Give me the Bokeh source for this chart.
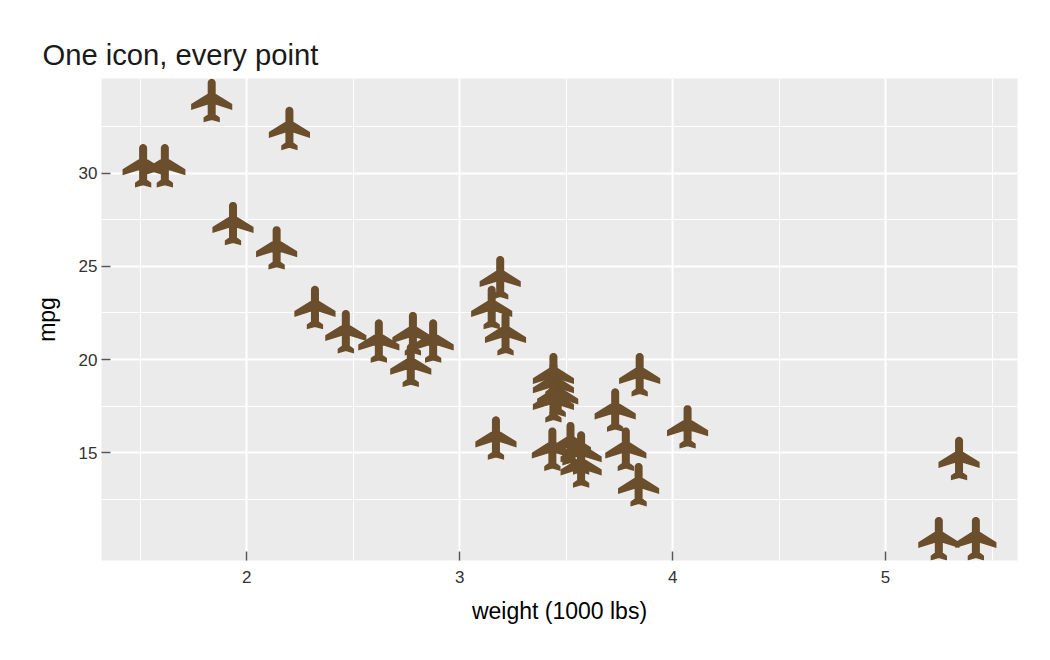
import numpy as np
from bokeh.plotting import figure
from bokeh.models import FixedTicker, Range1d
from bokeh.embed import file_html
from bokeh.resources import INLINE

# mtcars-style data
weight = [2.62, 2.875, 2.32, 3.215, 3.44, 3.46, 3.57, 3.19, 3.15, 3.44, 3.44, 4.07,
          3.73, 3.78, 5.25, 5.424, 5.345, 2.2, 1.615, 1.835, 2.465, 3.52, 3.435,
          3.84, 3.845, 1.935, 2.14, 1.513, 3.17, 2.77, 3.57, 2.78]
mpg = [21.0, 21.0, 22.8, 21.4, 18.7, 18.1, 14.3, 24.4, 22.8, 19.2, 17.8, 16.4,
       17.3, 15.2, 10.4, 10.4, 14.7, 32.4, 30.4, 33.9, 21.5, 15.5, 15.2,
       13.3, 19.2, 27.3, 26.0, 30.4, 15.8, 19.7, 15.0, 21.4]
x_ticks = [2, 3, 4, 5]
x_minor = [1.5, 2.5, 3.5, 4.5, 5.5]
y_ticks = [15, 20, 25, 30]
y_minor = [12.5, 17.5, 22.5, 27.5, 32.5]

PANEL_W, PANEL_H = 916, 482
X0, X1 = 1.3175, 5.6195
Y0, Y1 = 9.225, 35.075
ICON_SCALE = 2.07
BROWN = "#6B4E2B"

# flight icon outline in a 24-unit icon box
arc = np.linspace(0, np.pi, 12)
icon_x = np.array([21, 21, 13] + list(11.5 + 1.5 * np.cos(arc)) +
                  [10, 2, 2, 10, 10, 8, 8, 11.5, 15, 15, 13, 13]) - 11.5
icon_y = np.array([16, 14, 9] + list(3.5 - 1.5 * np.sin(arc)) +
                  [9, 14, 16, 13.5, 19, 20.5, 22, 21, 22, 20.5, 19, 13.5]) - 12
ux = PANEL_W / (X1 - X0)
uy = PANEL_H / (Y1 - Y0)
xs = [w + icon_x * ICON_SCALE / ux for w in weight]
ys = [m - icon_y * ICON_SCALE / uy for m in mpg]

p = figure(width=1042, height=652, output_backend="svg", toolbar_location=None,
           x_range=Range1d(X0, X1), y_range=Range1d(Y0, Y1),
           min_border_left=101, min_border_right=25, min_border_top=78, min_border_bottom=92,
           background_fill_color="#EBEBEB", border_fill_color="white",
           title="One icon, every point")
p.outline_line_color = None
p.patches(xs, ys, fill_color=BROWN, line_color=BROWN, line_width=1.8, line_join="miter")

p.title.text_font = "Liberation Sans"
p.title.text_font_size = "29.2px"
p.title.text_font_style = "normal"
p.title.text_color = "#1a1a1a"
p.title.offset = -59
p.title.standoff = 16

for ax, label, major, minor in ((p.xaxis[0], "weight (1000 lbs)", x_ticks, x_minor),
                                (p.yaxis[0], "mpg", y_ticks, y_minor)):
    ax.ticker = FixedTicker(ticks=major, minor_ticks=minor)
    ax.axis_label = label
    ax.axis_label_text_font = "Liberation Sans"
    ax.axis_label_text_font_size = "23px"
    ax.axis_label_text_font_style = "normal"
    ax.axis_label_text_color = "#000000"
    ax.major_label_text_font = "Liberation Sans"
    ax.major_label_text_font_size = "17px"
    ax.major_label_text_color = "#333333"
    ax.axis_line_color = None
    ax.major_tick_line_color = "#555555"
    ax.major_tick_line_width = 1.5
    ax.major_tick_in = 9
    ax.major_tick_out = 0
    ax.minor_tick_in = 0
    ax.minor_tick_out = 0
    ax.minor_tick_line_color = None
p.xaxis[0].major_label_standoff = 10
p.yaxis[0].major_label_standoff = 4
p.xaxis[0].axis_label_standoff = 12
p.yaxis[0].axis_label_standoff = 16

for g in (p.xgrid[0], p.ygrid[0]):
    g.grid_line_color = "white"
    g.grid_line_width = 2
    g.minor_grid_line_color = "white"
    g.minor_grid_line_width = 1

open("out.html", "w").write(file_html(p, INLINE))
